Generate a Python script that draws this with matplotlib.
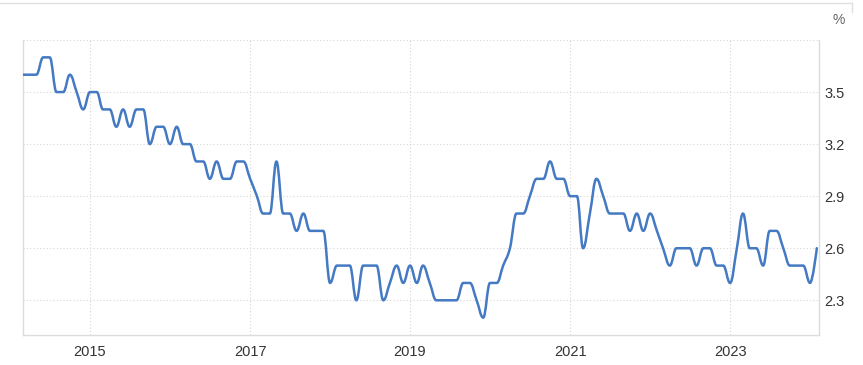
import numpy as np
import pandas as pd
import matplotlib
matplotlib.use('Agg')
import matplotlib.pyplot as plt
import matplotlib.dates as mdates
from matplotlib.path import Path
from matplotlib.patches import PathPatch
from matplotlib.lines import Line2D

plt.rcParams['font.family'] = ['Liberation Sans', 'DejaVu Sans']

# monthly values, first one is March 2014
first_month = '2014-03'
rates = [3.6, 3.6, 3.6, 3.7, 3.7, 3.5, 3.5, 3.6, 3.5, 3.4,
         3.5, 3.5, 3.4, 3.4, 3.3, 3.4, 3.3, 3.4, 3.4, 3.2, 3.3, 3.3,
         3.2, 3.3, 3.2, 3.2, 3.1, 3.1, 3.0, 3.1, 3.0, 3.0, 3.1, 3.1,
         3.0, 2.9, 2.8, 2.8, 3.1, 2.8, 2.8, 2.7, 2.8, 2.7, 2.7, 2.7,
         2.4, 2.5, 2.5, 2.5, 2.3, 2.5, 2.5, 2.5, 2.3, 2.4, 2.5, 2.4,
         2.5, 2.4, 2.5, 2.4, 2.3, 2.3, 2.3, 2.3, 2.4, 2.4, 2.3, 2.2,
         2.4, 2.4, 2.5, 2.6, 2.8, 2.8, 2.9, 3.0, 3.0, 3.1, 3.0, 3.0,
         2.9, 2.9, 2.6, 2.8, 3.0, 2.9, 2.8, 2.8, 2.8, 2.7, 2.8, 2.7,
         2.8, 2.7, 2.6, 2.5, 2.6, 2.6, 2.6, 2.5, 2.6, 2.6, 2.5, 2.5,
         2.4, 2.6, 2.8, 2.6, 2.6, 2.5, 2.7, 2.7, 2.6, 2.5, 2.5, 2.5,
         2.4, 2.6]
tick_years = [2015, 2017, 2019, 2021, 2023]
y_ticks = [2.3, 2.6, 2.9, 3.2, 3.5, 3.8]
y_labels = ['2.3', '2.6', '2.9', '3.2', '3.5', '']

dates = pd.date_range(first_month, periods=len(rates), freq='MS')
x = mdates.date2num(dates)
y = np.array(rates, dtype=float)


def spline_path(x, y, smoothing=1.5):
    # same control points as a highcharts "spline" series
    n = len(x)
    lc = np.column_stack([x, y]).astype(float)
    rc = lc.copy()
    d = smoothing + 1
    for i in range(1, n - 1):
        px, py = x[i], y[i]
        lx, ly = x[i - 1], y[i - 1]
        nx, ny = x[i + 1], y[i + 1]
        lcx = (smoothing * px + lx) / d
        lcy = (smoothing * py + ly) / d
        rcx = (smoothing * px + nx) / d
        rcy = (smoothing * py + ny) / d
        corr = (rcy - lcy) * (rcx - px) / (rcx - lcx) + py - rcy
        lcy += corr
        rcy += corr
        if lcy > ly and lcy > py:
            lcy = max(ly, py)
            rcy = 2 * py - lcy
        elif lcy < ly and lcy < py:
            lcy = min(ly, py)
            rcy = 2 * py - lcy
        if rcy > ny and rcy > py:
            rcy = max(ny, py)
            lcy = 2 * py - rcy
        elif rcy < ny and rcy < py:
            rcy = min(ny, py)
            lcy = 2 * py - rcy
        lc[i] = lcx, lcy
        rc[i] = rcx, rcy
    verts = [(x[0], y[0])]
    codes = [Path.MOVETO]
    for i in range(1, n):
        verts += [tuple(rc[i - 1]), tuple(lc[i]), (x[i], y[i])]
        codes += [Path.CURVE4] * 3
    return Path(verts, codes)


fig = plt.figure(figsize=(8.63, 3.65), dpi=100)
ax = fig.add_axes([23 / 863, 30 / 365, (819 - 23) / 863, 295 / 365])

ax.add_patch(PathPatch(spline_path(x, y), facecolor='none', edgecolor='#4479c3',
                       lw=1.8, capstyle='round', joinstyle='round', zorder=3))

ax.set_xlim(x[0], x[-1] + 10)
ax.set_ylim(2.1, 3.8)

ax.set_xticks(mdates.date2num([pd.Timestamp(f'{yr}-01-01') for yr in tick_years]),
              [str(yr) for yr in tick_years])
ax.yaxis.tick_right()
ax.set_yticks(y_ticks, y_labels)
ax.tick_params(axis='both', length=0, labelsize=10.5, labelcolor='#333333')
ax.tick_params(axis='x', pad=7)
ax.tick_params(axis='y', pad=4)

ax.grid(True, linestyle=(0, (1, 2)), color='#d6d6d6', linewidth=0.8)
ax.set_axisbelow(True)
for s in ['left', 'bottom', 'right']:
    ax.spines[s].set_color('#dcdcdc')
    ax.spines[s].set_linewidth(1)
ax.spines['top'].set_visible(False)

fig.text(832 / 863, 1 - 20 / 365, '%', color='#666666', fontsize=10, ha='left', va='center')

# panel border at the top
fig.add_artist(Line2D([0, 852 / 863], [1 - 3 / 365, 1 - 3 / 365], color='#e0e0e0', lw=1))
fig.add_artist(Line2D([852 / 863, 852 / 863], [1 - 3 / 365, 1 - 12 / 365], color='#e0e0e0', lw=1))

fig.savefig('out.png', dpi=100)
